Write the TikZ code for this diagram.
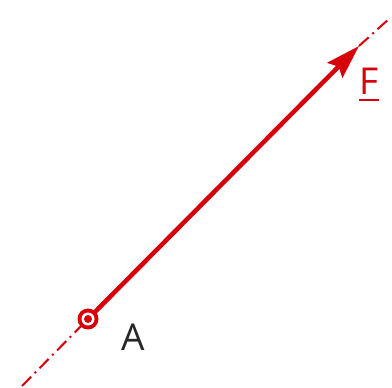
\documentclass[tikz,border=0pt]{standalone}
\usepackage{fontspec}
\setmainfont{Open Sans}
\usetikzlibrary{arrows.meta}
\definecolor{fred}{RGB}{215,0,10}
\definecolor{lbl}{RGB}{40,40,40}
\begin{document}
\begin{tikzpicture}[x=1pt,y=-1pt,
  axis/.style={fred,line width=2pt,dash pattern=on 13pt off 5pt on 2pt off 5pt},
  force/.style={fred,line width=4.5pt,-{Stealth[length=34pt,width=21pt,inset=5pt]}},
  lab/.style={font=\fontsize{37}{37}\selectfont,inner sep=0pt}]
\useasboundingbox (0,0) rectangle (392,388);
\coordinate (s) at (22,386);
\coordinate (e) at (390,18);
\coordinate (A) at (88,319);
\coordinate (T) at (359,46);
\draw[axis] (s) -- (A);
\draw[axis] (T) -- (e);
\draw[force] (A) -- (T);
\fill[fred] (A) circle (10.5);
\fill[white] (A) circle (6.5);
\fill[fred] (A) circle (4);
\node[lab,text=lbl,anchor=base] (la) at (133,350) {A};
\node[lab,text=fred,anchor=base] (lf) at (369,95) {F};
\draw[fred,line width=2pt] ([yshift=-5pt]lf.base west) -- ([yshift=-5pt]lf.base east);
\end{tikzpicture}
\end{document}
